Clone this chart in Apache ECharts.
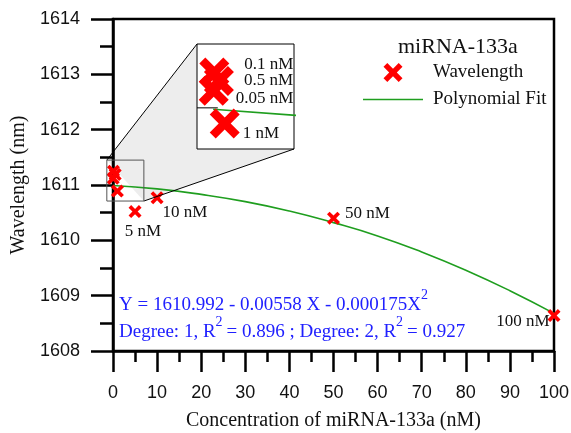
<!DOCTYPE html>
<html>
<head>
<meta charset="utf-8">
<script src="https://cdn.jsdelivr.net/npm/echarts@6/dist/echarts.min.js"></script>
<style>
  html, body { margin: 0; padding: 0; background: #fff; }
  #chart { width: 571px; height: 433px; }
</style>
</head>
<body>
<div id="chart"></div>
<script>
// measured points
var conc = [0.05, 0.1, 0.5, 1, 5, 10, 50, 100];
var wavelength = [1611.12, 1611.25, 1611.19, 1610.89, 1610.52, 1610.77, 1610.40, 1608.64];
var pointLabels = ['0.05 nM', '0.1 nM', '0.5 nM', '1 nM', '5 nM', '10 nM', '50 nM', '100 nM'];
// polynomial fit
var fitX = [0, 10, 20, 30, 40, 50, 60, 70, 80, 90, 100];
var fitY = [1610.99, 1610.93, 1610.83, 1610.70, 1610.53, 1610.32, 1610.08, 1609.79, 1609.46, 1609.09, 1608.68];
// zoomed window shown in the inset
var zoomX = [-1.4, 7.0];
var zoomY = [1610.71, 1611.45];

var serif = 'Liberation Serif';
var sans = 'Liberation Sans';
var xPath = 'path://M0,2 L2,0 L5,3 L8,0 L10,2 L7,5 L10,8 L8,10 L5,7 L2,10 L0,8 L3,5 Z';

// label placement for main plot / inset
var mainLab = {
    '5 nM': {position: 'bottom', distance: 5, offset: [8, 0]},
    '10 nM': {position: 'right', distance: 0, offset: [-1, 15]},
    '50 nM': {position: 'right', distance: 5, offset: [0, -5]},
    '100 nM': {position: 'left', distance: -2, offset: [0, 6]}
};
var insetLab = {
    '0.05 nM': {position: 'right', distance: 5, offset: [2, 8]},
    '0.1 nM': {position: 'right', distance: 5, offset: [10, -8]},
    '0.5 nM': {position: 'right', distance: 5, offset: [5, 0]},
    '1 nM': {position: 'right', distance: 5, offset: [-2, 10]}
};

var buildPoints = function (labs) {
    return conc.map(function (c, i) {
        var item = {value: [c, wavelength[i]]};
        var l = labs[pointLabels[i]];
        if (l) {
            item.label = {
                show: true, formatter: pointLabels[i], position: l.position,
                distance: l.distance, offset: l.offset,
                color: '#111', fontFamily: serif, fontSize: 17
            };
        }
        return item;
    });
};
var fitData = fitX.map(function (x, i) { return [x, fitY[i]]; });

var chart = echarts.init(document.getElementById('chart'));
var option = {
    animation: false,
    backgroundColor: '#fff',
    title: {
        text: 'miRNA-133a', left: 393, top: 31,
        textStyle: {fontFamily: serif, fontSize: 22, fontWeight: 'normal', color: '#111'}
    },
    legend: {
        orient: 'vertical', left: 363, top: 63, padding: 0, itemWidth: 60, itemHeight: 19, itemGap: 8,
        data: [
            {name: 'Wavelength'},
            {name: 'Polynomial Fit', icon: 'path://M0,0 L60,0 L60,1.5 L0,1.5 Z'}
        ],
        textStyle: {fontFamily: serif, fontSize: 19, color: '#111', padding: [0, 0, 0, 5]}
    },
    grid: [
        {left: 113, right: 17, top: 19, bottom: 82, outerBoundsMode: 'none', show: true,
            borderColor: '#000', borderWidth: 2.5},
        {left: 197, top: 44, width: 97, height: 105, outerBoundsMode: 'none', show: true,
            backgroundColor: '#fff', borderColor: '#000', borderWidth: 1}
    ],
    xAxis: [
        {
            gridIndex: 0, type: 'value', min: 0, max: 100, interval: 10,
            name: 'Concentration of miRNA-133a (nM)', nameLocation: 'middle', nameGap: 60,
            nameTextStyle: {fontFamily: serif, fontSize: 20, color: '#111'},
            axisLine: {lineStyle: {color: '#000', width: 2.5}},
            axisTick: {inside: false, length: 21, lineStyle: {color: '#000', width: 2.5}},
            minorTick: {show: true, splitNumber: 2, length: 11, lineStyle: {color: '#000', width: 2.5}},
            axisLabel: {margin: 33, fontFamily: sans, fontSize: 18, color: '#111'},
            splitLine: {show: false}
        },
        {gridIndex: 1, type: 'value', min: zoomX[0], max: zoomX[1], show: false}
    ],
    yAxis: [
        {
            gridIndex: 0, type: 'value', min: 1608, max: 1614, interval: 1,
            name: 'Wavelength (nm)', nameLocation: 'middle', nameGap: 67,
            nameTextStyle: {fontFamily: serif, fontSize: 20, color: '#111'},
            axisLine: {lineStyle: {color: '#000', width: 2.5}},
            axisTick: {inside: false, length: 22, lineStyle: {color: '#000', width: 2.5}},
            minorTick: {show: true, splitNumber: 2, length: 13, lineStyle: {color: '#000', width: 2.5}},
            axisLabel: {margin: 33, fontFamily: sans, fontSize: 18, color: '#111',
                formatter: function (v) { return String(v); }},
            splitLine: {show: false}
        },
        {gridIndex: 1, type: 'value', min: zoomY[0], max: zoomY[1], show: false}
    ],
    series: [
        {
            name: 'Polynomial Fit', type: 'line', xAxisIndex: 0, yAxisIndex: 0,
            data: fitData, smooth: true, symbol: 'none',
            lineStyle: {color: '#1f9e1f', width: 1.6}, itemStyle: {color: '#1f9e1f'}, z: 3
        },
        {
            name: 'Wavelength', type: 'scatter', xAxisIndex: 0, yAxisIndex: 0,
            data: buildPoints(mainLab), symbol: xPath, symbolSize: 13,
            itemStyle: {color: '#ff0000', opacity: 1}, clip: false, z: 4
        },
        {
            name: 'insetTick', type: 'line', xAxisIndex: 1, yAxisIndex: 1,
            data: [[zoomX[0], 1611], [0.4, 1611]], symbol: 'none',
            lineStyle: {color: '#000', width: 1}, z: 5
        },
        {
            name: 'insetFit', type: 'line', xAxisIndex: 1, yAxisIndex: 1,
            data: fitData, symbol: 'none', clip: true,
            lineStyle: {color: '#1f9e1f', width: 1.6}, z: 5
        },
        {
            name: 'insetPoints', type: 'scatter', xAxisIndex: 1, yAxisIndex: 1,
            data: buildPoints(insetLab).slice(0, 4), symbol: xPath, symbolSize: 30,
            itemStyle: {color: '#ff0000', opacity: 1}, clip: true, z: 6
        }
    ]
};
chart.setOption(option);

// connector lines and shaded zoom area
var tl = chart.convertToPixel({gridIndex: 0}, [zoomX[0], zoomY[1]]);
var br = chart.convertToPixel({gridIndex: 0}, [zoomX[1], zoomY[0]]);
var itl = chart.convertToPixel({gridIndex: 1}, [zoomX[0], zoomY[1]]);
var ibl = chart.convertToPixel({gridIndex: 1}, [zoomX[0], zoomY[0]]);
var ibr = chart.convertToPixel({gridIndex: 1}, [zoomX[1], zoomY[0]]);

chart.setOption({
    graphic: [
        {type: 'polygon', z: -10, silent: true,
            shape: {points: [tl, itl, ibl, ibr, br]}, style: {fill: '#ededed'}},
        {type: 'line', z: 10, silent: true,
            shape: {x1: tl[0], y1: tl[1], x2: itl[0], y2: itl[1]}, style: {stroke: '#000', lineWidth: 1}},
        {type: 'line', z: 10, silent: true,
            shape: {x1: br[0], y1: br[1], x2: ibr[0], y2: ibr[1]}, style: {stroke: '#000', lineWidth: 1}},
        {type: 'rect', z: 10, silent: true,
            shape: {x: tl[0], y: tl[1], width: br[0] - tl[0], height: br[1] - tl[1]},
            style: {fill: null, stroke: '#555', lineWidth: 1}},
        {type: 'text', left: 119, top: 288, silent: true, z: 10,
            style: {
                text: '{a|Y = 1610.992 - 0.00558 X - 0.000175X}{s|2}\n{a|Degree: 1, R}{s|2}{a|= 0.896 ; Degree: 2, R}{s|2}{a|= 0.927}',
                rich: {
                    a: {fontFamily: serif, fontSize: 19, fill: '#2020ff', lineHeight: 27, verticalAlign: 'bottom'},
                    s: {fontFamily: serif, fontSize: 14, fill: '#2020ff', lineHeight: 27, verticalAlign: 'top', padding: [0, 4, 0, 0]}
                }
            }}
    ]
});
</script>
</body>
</html>
